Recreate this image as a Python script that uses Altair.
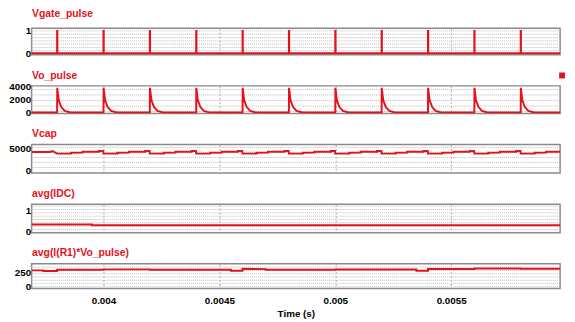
import altair as alt
import pandas as pd

# ---------------- data ----------------
t_start = 0.00369
t_end = 0.00597
x_ticks = [0.004, 0.0045, 0.005, 0.0055]
pulse_times = [0.0038, 0.0040, 0.0042, 0.0044, 0.0046, 0.0048,
               0.0050, 0.0052, 0.0054, 0.0056, 0.0058]
pulse_width = 0.000001

# Vo_pulse spike after each gate pulse (offset from pulse, value)
spike_dt = [0.0, 0.0000005, 0.000007, 0.000018, 0.000033, 0.000054, 0.00008]
spike_v = [0, 3850, 1900, 850, 240, 50, 0]

# Vcap saw-shape within one switching period (offset from pulse, value)
vcap_start_t = [0.00369, 0.00377, 0.00378]
vcap_start_v = [4240, 4250, 4460]
vcap_dt = [0.0, 0.00006, 0.00006, 0.00011, 0.00011, 0.00018, 0.00018, 0.000199]
vcap_v = [3880, 3900, 4100, 4110, 4320, 4330, 4460, 4460]
vcap_end_v = 4330

# avg(IDC)
idc_t = [0.00369, 0.00395, 0.00395, 0.00597]
idc_v = [0.32, 0.32, 0.28, 0.28]

# avg(I(R1)*Vo_pulse)
pw_t = [0.00369, 0.00374, 0.00374, 0.0038, 0.0038, 0.0040, 0.0040, 0.0042,
        0.0042, 0.0044, 0.0044, 0.00455, 0.00455, 0.0046, 0.0046, 0.0047,
        0.0047, 0.0048, 0.0048, 0.0050, 0.0050, 0.0052, 0.0052, 0.00535,
        0.00535, 0.0054, 0.0054, 0.0056, 0.0056, 0.0058, 0.0058, 0.00597]
pw_v = [279, 279, 268, 268, 290, 290, 296, 296,
        290, 290, 290, 290, 273, 273, 307, 300,
        290, 290, 290, 290, 292, 292, 292, 292,
        273, 273, 303, 303, 310, 310, 305, 305]

# dotted horizontal grid values of each panel
grid1 = [0.12, 0.26, 0.41, 0.55, 0.70, 0.85, 1.0]
grid2 = [150, 1000, 1860, 2730, 3590]
grid3 = [700, 1850, 3000, 4150, 5300]
grid4 = [0.08, 0.24, 0.40, 0.56, 0.72, 0.88, 1.04, 1.20]
grid5 = [0, 56, 111, 167, 223, 278, 334]

# ---------------- build tables ----------------
def rows_gate():
    t, v = [t_start], [0]
    for p in pulse_times:
        t += [p, p, p + pulse_width, p + pulse_width]
        v += [0, 1, 1, 0]
    t.append(t_end); v.append(0)
    return t, v

def rows_spike():
    t, v = [t_start], [0]
    for p in pulse_times:
        t += [p + d for d in spike_dt]
        v += list(spike_v)
    t.append(t_end); v.append(0)
    return t, v

def rows_vcap():
    t, v = list(vcap_start_t), list(vcap_start_v)
    for p in pulse_times:
        for d, val in zip(vcap_dt, vcap_v):
            if p + d < t_end:
                t.append(p + d); v.append(val)
    t.append(t_end); v.append(vcap_end_v)
    return t, v

def frame(t, v, name):
    return pd.DataFrame({"t": t, "v": v, "i": list(range(len(t))), "s": name})

df1 = frame(*rows_gate(), "Vgate_pulse")
df2 = frame(*rows_spike(), "Vo_pulse")
df3 = frame(*rows_vcap(), "Vcap")
df4 = frame(idc_t, idc_v, "avg(IDC)")
df5 = frame(pw_t, pw_v, "avg(I(R1)*Vo_pulse)")

# ---------------- styling ----------------
FONT = "Liberation Sans"
RED = "#e3121b"
W = 537

xscale = alt.Scale(domain=[t_start, t_end], nice=False, zero=False)


def x_axis(bottom):
    if bottom:
        return alt.Axis(values=x_ticks, format="~g", grid=True, gridColor="#a6a6a6",
                        gridDash=[2, 2], gridWidth=1, ticks=False, domain=False,
                        labelFont=FONT, labelFontSize=10, labelFontWeight="bold",
                        labelColor="black", labelPadding=7, title="Time (s)",
                        titleFont=FONT, titleFontSize=10, titleFontWeight="bold",
                        titleColor="black", titlePadding=4)
    return alt.Axis(values=x_ticks, grid=True, gridColor="#a6a6a6", gridDash=[2, 2],
                    gridWidth=1, ticks=False, domain=False, labels=False, title=None)


def panel(df, title, ydomain, yvalues, gridvals, height, bottom=False, legend=False,
          title_y=-8):
    yscale = alt.Scale(domain=ydomain, nice=False, zero=False)
    yaxis = alt.Axis(values=yvalues, format="d", grid=False, ticks=False, domain=False,
                     labelPadding=1, labelFont=FONT, labelFontSize=10,
                     labelFontWeight="bold", labelColor="black",
                     title=title, titleAngle=0, titleX=0, titleY=title_y,
                     titleAlign="left", titleBaseline="alphabetic",
                     titleFont=FONT, titleFontSize=10.5, titleFontWeight="bold",
                     titleColor=RED)
    rules = alt.Chart(pd.DataFrame({"g": gridvals})).mark_rule(
        color="#bcbcbc", strokeDash=[1, 1], strokeWidth=1
    ).encode(y=alt.Y("g:Q", scale=yscale, axis=yaxis))
    if legend:
        color = alt.Color("s:N", scale=alt.Scale(domain=[title], range=[RED]),
                          legend=alt.Legend(orient="none", legendX=534, legendY=43,
                                            title=None, labelExpr="''",
                                            symbolType="square", symbolSize=36,
                                            symbolFillColor=RED, symbolStrokeWidth=0,
                                            padding=0, labelOffset=0, labelLimit=1))
    else:
        color = alt.value(RED)
    line = alt.Chart(df).mark_line(strokeWidth=2, clip=True).encode(
        x=alt.X("t:Q", scale=xscale, axis=x_axis(bottom)),
        y=alt.Y("v:Q", scale=yscale, axis=yaxis),
        order="i:Q",
        color=color,
    )
    return alt.layer(rules, line).properties(width=W, height=height)


p1 = panel(df1, "Vgate_pulse", [-0.07, 1.12], [0, 1], grid1, 27, title_y=-12)
p2 = panel(df2, "Vo_pulse", [-150, 4150], [0, 2000, 4000], grid2, 28, legend=True)
p3 = panel(df3, "Vcap", [-580, 5960], [0, 5000], grid3, 29)
p4 = panel(df4, "avg(IDC)", [-0.08, 1.3], [0, 1], grid4, 29)
p5 = panel(df5, "avg(I(R1)*Vo_pulse)", [-27, 390], [0, 250], grid5, 25, bottom=True)

chart = alt.vconcat(p1, p2, p3, p4, p5, spacing=31.6, bounds="flush").resolve_scale(
    y="independent"
).properties(
    padding={"left": 0, "top": -3, "right": 0, "bottom": 0}
).configure_view(stroke="#8a8a8a", strokeWidth=1.5)

chart.save("out.html", embed_options={"renderer": "svg", "actions": False})
